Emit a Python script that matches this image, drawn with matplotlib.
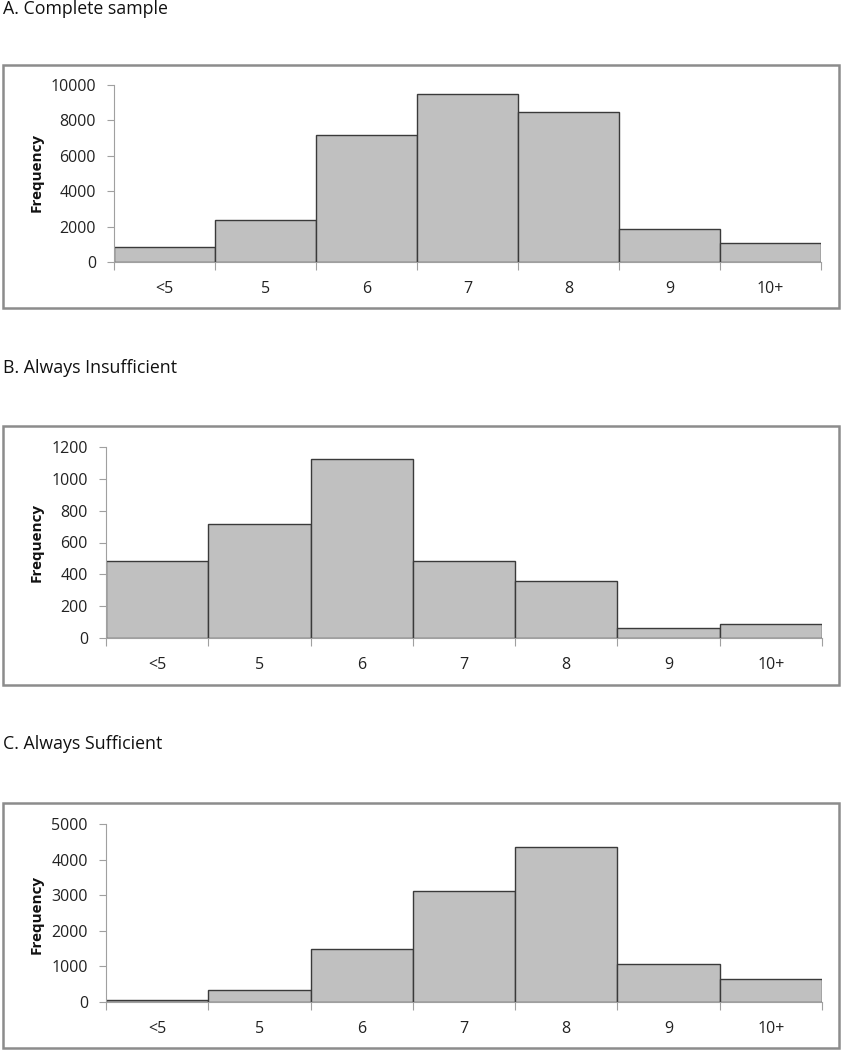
import matplotlib
matplotlib.use("Agg")
import matplotlib.pyplot as plt
from matplotlib.patches import Rectangle

plt.rcParams['font.family'] = ['Open Sans', 'DejaVu Sans']

# Data
categories = ["<5", "5", "6", "7", "8", "9", "10+"]

complete_sample = [850, 2350, 7200, 9500, 8500, 1850, 1100]
always_insufficient = [485, 715, 1125, 485, 360, 60, 85]
always_sufficient = [70, 330, 1475, 3130, 4350, 1080, 640]

titles = ["A. Complete sample", "B. Always Insufficient", "C. Always Sufficient"]
ymax = [10000, 1200, 5000]
ystep = [2000, 200, 1000]

W, H = 843, 1050
fig = plt.figure(figsize=(W / 100, H / 100), dpi=100)

# pixel layout: (axes left, axes right, zero line y, top y, box top, box bottom, title y, ylabel y)
layout = [
    (114, 821, 262, 85, 65, 308, 9, 173),
    (106, 822, 638, 447, 426, 685, 368, 542),
    (106, 822, 1002, 824, 803, 1048, 744, 914),
]

series = [complete_sample, always_insufficient, always_sufficient]

for i in range(3):
    l, r, y0, y1, bt, bb, ty, ly = layout[i]

    # outer gray frame around each panel
    fig.patches.append(Rectangle((3 / W, 1 - bb / H), (839 - 3) / W, (bb - bt) / H,
                                 transform=fig.transFigure, fill=False,
                                 edgecolor='#8c8c8c', linewidth=1.8))

    ax = fig.add_axes([l / W, 1 - y0 / H, (r - l) / W, (y0 - y1) / H])
    x = list(range(len(categories)))
    ax.bar(x, series[i], width=1.0, color='#c0c0c0', edgecolor='#3a3a3a', linewidth=1.0)
    ax.set_xlim(-0.5, len(categories) - 0.5)
    ax.set_ylim(0, ymax[i])
    ax.set_yticks(range(0, ymax[i] + 1, ystep[i]))

    # tick marks at bin edges, labels centred in bins
    ax.set_xticks([k - 0.5 for k in range(len(categories) + 1)])
    ax.set_xticklabels([])
    ax.set_xticks(x, minor=True)
    ax.set_xticklabels(categories, minor=True)
    ax.tick_params(axis='x', which='major', length=6, color='#a0a0a0', direction='out')
    ax.tick_params(axis='x', which='minor', length=0, pad=14, labelsize=11.5, labelcolor='#222222')
    ax.tick_params(axis='y', length=5, color='#a0a0a0', pad=8, labelsize=11.5, labelcolor='#222222')

    for s in ['top', 'right']:
        ax.spines[s].set_visible(False)
    ax.spines['left'].set_color('#a0a0a0')
    ax.spines['bottom'].set_color('#a0a0a0')
    ax.set_axisbelow(False)

    fig.text(37 / W, 1 - ly / H, "Frequency", rotation=90, ha='center', va='center',
             fontsize=11, fontweight='bold', color='#111111')
    fig.text(3 / W, 1 - ty / H, titles[i], ha='left', va='center', fontsize=12.8, color='#111111')

fig.savefig("out.png", dpi=100)
